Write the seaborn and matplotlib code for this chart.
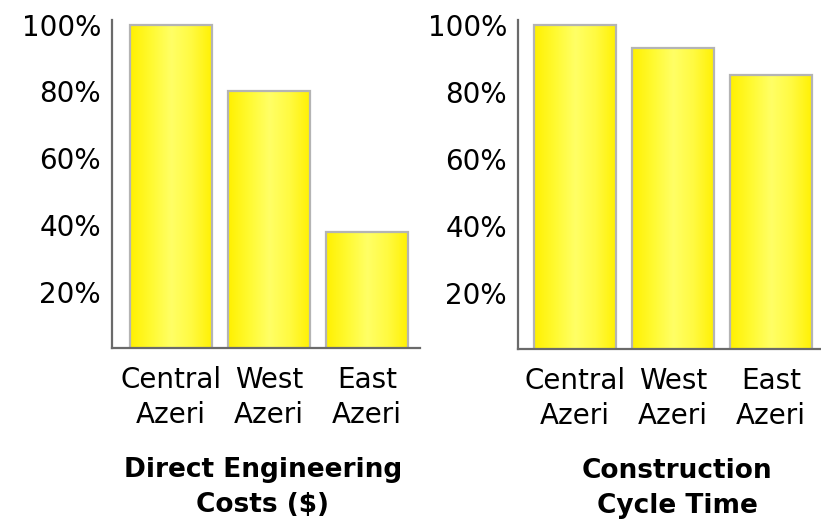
import numpy as np
import pandas as pd
import matplotlib
matplotlib.use("Agg")
import matplotlib.pyplot as plt
import seaborn as sns
from matplotlib.colors import LinearSegmentedColormap

# Data (percent of Central Azeri)
regions = ["Central\nAzeri", "West\nAzeri", "East\nAzeri"]
engineering_costs = [100, 80, 38]
cycle_time = [100, 93, 85]
y_ticks = [20, 40, 60, 80, 100]
titles = ["Direct Engineering\nCosts ($)", "Construction\nCycle Time"]

sns.set_style("white")
plt.rcParams["font.family"] = ["DejaVu Sans"]

fig = plt.figure(figsize=(8.21, 5.24), dpi=100)
ax1 = fig.add_axes([112 / 821, 176 / 524, 308 / 821, 328 / 524])
ax2 = fig.add_axes([518 / 821, 175 / 524, 303 / 821, 329 / 524])

# yellow sheen across each bar
sheen = LinearSegmentedColormap.from_list(
    "sheen", ["#fff000", "#fffa30", "#ffff66", "#fffa40", "#fff000"])
grad = np.linspace(0, 1, 256).reshape(1, -1)
y_bottom = 3.2

panels = [(ax1, engineering_costs, (-0.60, 2.54), titles[0], 0.49),
          (ax2, cycle_time, (-0.58, 2.51), titles[1], 0.526)]

for ax, vals, xlim, title, title_x in panels:
    df = pd.DataFrame({"region": regions, "value": vals})
    sns.barplot(data=df, x="region", y="value", color="#fff200",
                width=0.84, edgecolor="#b4b4b4", linewidth=1.6,
                saturation=1, ax=ax)
    for bar in ax.patches:
        x0 = bar.get_x()
        w, h = bar.get_width(), bar.get_height()
        ax.imshow(grad, cmap=sheen, aspect="auto",
                  extent=[x0, x0 + w, y_bottom, h], zorder=bar.get_zorder())
        bar.set_facecolor("none")
        bar.set_zorder(bar.get_zorder() + 0.5)
    ax.set_xlim(*xlim)
    ax.set_ylim(y_bottom, 101.4)
    ax.set_yticks(y_ticks)
    ax.set_yticklabels([f"{t}%" for t in y_ticks])
    ax.tick_params(axis="both", length=0, labelsize=20, colors="black")
    ax.tick_params(axis="y", pad=8)
    ax.tick_params(axis="x", pad=13)
    for lbl in ax.get_xticklabels():
        lbl.set_linespacing(1.33)
    for side in ["top", "right"]:
        ax.spines[side].set_visible(False)
    for side in ["left", "bottom"]:
        ax.spines[side].set_color("#6a6a6a")
        ax.spines[side].set_linewidth(1.6)
    ax.set_xlabel("")
    ax.set_ylabel("")
    ax.text(title_x, -0.425, title, transform=ax.transAxes, ha="center",
            va="center", fontsize=19, fontweight="bold", linespacing=1.45,
            color="black")
    ax.set_facecolor("none")

fig.savefig("out.png", dpi=100, facecolor="white")
